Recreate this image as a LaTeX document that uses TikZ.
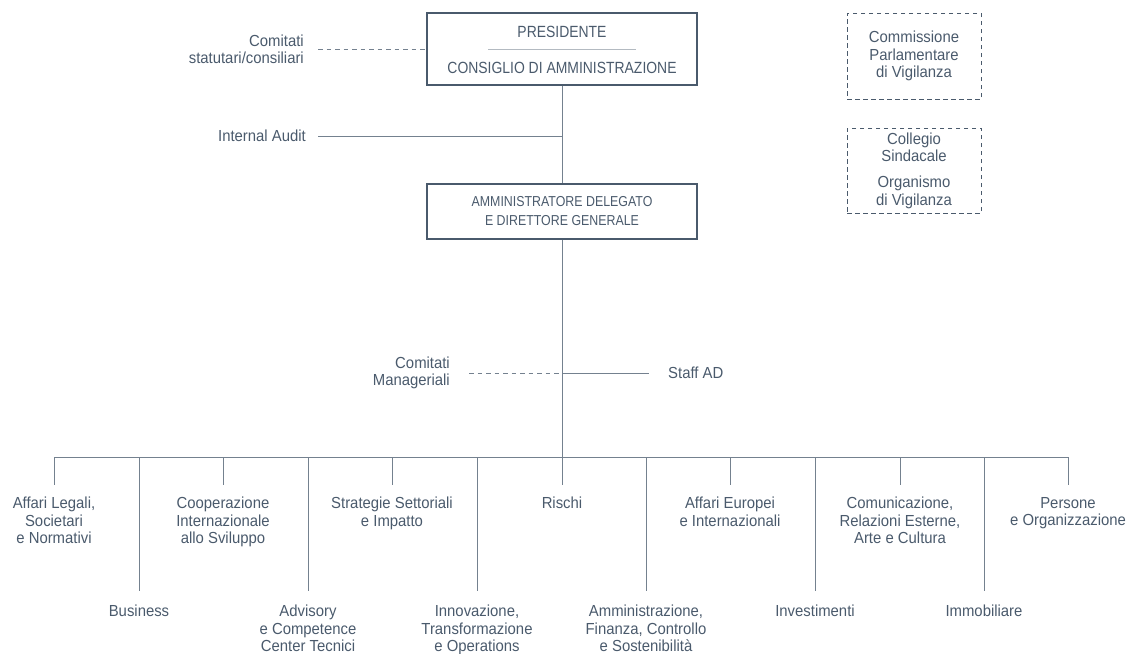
\documentclass[tikz,border=0pt]{standalone}
\usepackage{fontspec}
\setmainfont{Liberation Sans}[FakeStretch=0.93]
\newfontfamily\boxcaps{Liberation Sans}[FakeStretch=0.86]
\usetikzlibrary{positioning}

\definecolor{slate}{HTML}{4A5A6C}
\definecolor{rulegrey}{HTML}{74818F}

\begin{document}
\begin{tikzpicture}[x=1pt, y=-1pt,
            every node/.style={text=slate, font=\fontsize{16}{17.3}\selectfont},
            orgbox/.style={draw=slate, line width=1.1pt, rectangle, minimum width=270pt, inner sep=0pt},
            extbox/.style={draw=slate, line width=1pt, dash pattern=on 4.5pt off 3.5pt,
                minimum width=134pt, align=center, inner sep=0pt},
            link/.style={draw=rulegrey, line width=1pt},
            loose/.style={link, dash pattern=on 4.5pt off 4pt},
            dept/.style={align=center, anchor=north, inner sep=0pt}
        ]

            \useasboundingbox (0,0) rectangle (1129,653);

            % vertice
            \node[orgbox, minimum height=72pt] (pres) at (562,49) {};
            \node[inner sep=0pt, font=\boxcaps\fontsize{16.2}{17}\selectfont] (presT) at (562,32) {PRESIDENTE};
            \node[inner sep=0pt, font=\boxcaps\fontsize{16.2}{17}\selectfont] (consT) at (562,68) {CONSIGLIO DI AMMINISTRAZIONE};
            \draw[draw=rulegrey!55, line width=0.8pt] ([xshift=-74pt]pres.center) -- ([xshift=74pt]pres.center);

            \node[orgbox, minimum height=55pt, align=center, font=\boxcaps\fontsize{14.4}{19}\selectfont] (ad) at (562,211.5)
                {AMMINISTRATORE DELEGATO\\E DIRETTORE GENERALE};

            % organi esterni
            \node[extbox, minimum height=86pt] (cpv) at (914,56) {Commissione\\Parlamentare\\di Vigilanza};
            \node[extbox, minimum height=85pt] (csov) at (914,170.5) {Collegio\\Sindacale\\[9pt]Organismo\\di Vigilanza};

            % staff e comitati
            \node[align=right, anchor=east, inner sep=0pt] (comstat) at (304,49) {Comitati\\statutari/consiliari};
            \node[anchor=east, inner sep=0pt] (audit) at (306,136) {Internal Audit};
            \node[align=right, anchor=east, inner sep=0pt] (comman) at (450,373) {Comitati\\Manageriali};
            \node[anchor=west, inner sep=0pt] (staff) at (668,373) {Staff AD};

            \draw[loose] ([xshift=14pt]comstat.east) -- (pres.west);
            \draw[link] (pres.south) -- (ad.north);
            \draw[link] ([xshift=12pt]audit.east) -- (audit.east -| pres.south);
            \coordinate (bus) at (562,457);
            \draw[link] (ad.south) -- (bus);
            \draw[loose] ([xshift=19pt]comman.east) -- (comman.east -| ad.south);
            \draw[link] (staff.west -| ad.south) -- ([xshift=-19pt]staff.west);

            % direzioni
            \foreach \i/\x/\y/\txt in {
                    1/54/497/{Affari Legali,\\Societari\\e Normativi},
                    2/139/605/{Business},
                    3/223/497/{Cooperazione\\Internazionale\\allo Sviluppo},
                    4/308/605/{Advisory\\e Competence\\Center Tecnici},
                    5/392/497/{Strategie Settoriali\\e Impatto},
                    6/477/605/{Innovazione,\\Transformazione\\e Operations},
                    7/562/497/{Rischi},
                    8/646/605/{Amministrazione,\\Finanza, Controllo\\e Sostenibilità},
                    9/730/497/{Affari Europei\\e Internazionali},
                    10/815/605/{Investimenti},
                    11/900/497/{Comunicazione,\\Relazioni Esterne,\\Arte e Cultura},
                    12/984/605/{Immobiliare},
                    13/1068/497/{Persone\\e Organizzazione}}
                \node[dept] (d\i) at (\x,\y) {\txt};

            \draw[link] (d1.north |- bus) -- (d13.north |- bus);
            \foreach \i in {1,3,...,13}
                \draw[link] (d\i.north |- bus) -- ([yshift=12pt]d\i.north);
            \foreach \i in {2,4,...,12}
                \draw[link] (d\i.north |- bus) -- ([yshift=14pt]d\i.north);
        \end{tikzpicture}
\end{document}
